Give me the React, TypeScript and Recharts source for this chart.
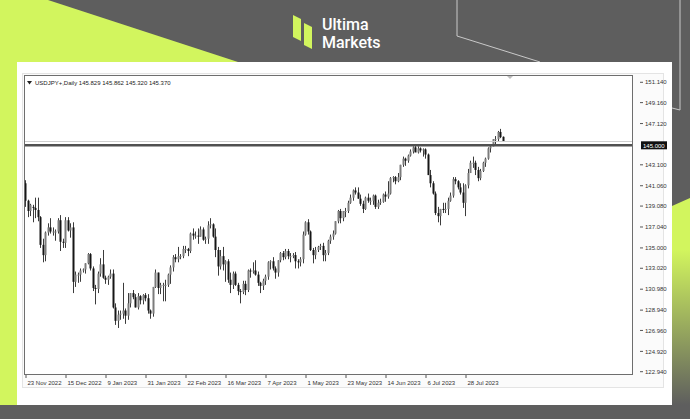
import { Bar, ComposedChart, ReferenceLine, XAxis, YAxis } from "recharts";

// open, high, low, close
type Candle = [number, number, number, number];

const nov22: Candle[] = [
  [141.3, 141.6, 139.0, 139.6], [139.6, 139.7, 138.0, 138.6], [138.6, 139.3, 138.1, 139.2],
  [139.0, 139.2, 137.5, 138.9], [138.9, 139.9, 137.9, 138.7], [138.7, 139.9, 137.6, 138.0],
];
const dec22: Candle[] = [
  [138.0, 138.1, 135.0, 135.3], [135.3, 135.9, 133.6, 134.3], [134.3, 136.6, 133.7, 136.5],
  [136.5, 137.4, 136.2, 137.0], [137.0, 137.9, 136.4, 136.6], [136.6, 137.0, 136.2, 136.6],
  [136.6, 136.8, 135.7, 136.6], [136.6, 137.9, 136.4, 137.7], [137.7, 138.2, 134.7, 135.6],
  [135.6, 135.9, 135.0, 135.5], [135.5, 138.0, 135.0, 137.7], [137.7, 138.0, 136.6, 136.7],
  [136.7, 137.4, 136.0, 137.0], [137.0, 137.5, 130.6, 131.7], [131.7, 132.7, 131.2, 132.4],
  [132.4, 132.6, 131.6, 132.4], [132.4, 133.0, 131.7, 132.8], [132.8, 133.0, 132.6, 132.9],
  [132.9, 133.5, 132.5, 133.5], [133.5, 134.5, 133.4, 134.4], [134.4, 134.5, 132.8, 133.0],
  [133.0, 133.2, 130.8, 131.1],
];
const jan23: Candle[] = [
  [131.1, 131.4, 129.5, 131.0], [131.0, 132.7, 130.6, 132.5], [132.5, 134.0, 132.2, 133.4],
  [133.4, 134.8, 132.0, 132.1], [132.1, 132.3, 131.5, 131.9], [131.9, 132.3, 131.4, 132.2],
  [132.2, 132.9, 132.0, 132.5], [132.5, 132.9, 129.1, 129.2], [129.2, 129.6, 127.5, 127.9],
  [127.9, 128.9, 127.2, 128.5], [128.5, 128.9, 128.0, 128.6], [128.6, 131.6, 128.1, 128.9],
  [128.9, 129.1, 127.6, 128.4], [128.4, 130.6, 128.0, 129.6], [129.6, 130.6, 129.2, 130.6],
  [130.6, 130.9, 130.0, 130.2], [130.2, 130.5, 129.2, 129.2], [129.2, 130.6, 129.0, 130.3],
  [130.3, 130.4, 129.5, 129.9], [129.9, 130.5, 129.5, 130.4], [130.4, 130.6, 129.8, 130.1],
];
const feb23: Candle[] = [
  [130.1, 130.5, 128.6, 128.9], [128.9, 129.0, 128.1, 128.6], [128.6, 131.2, 128.3, 131.2],
  [131.2, 132.9, 131.1, 132.6], [132.6, 132.6, 130.5, 131.1], [131.1, 131.6, 130.5, 131.4],
  [131.4, 131.6, 129.8, 131.4], [131.4, 131.9, 129.8, 131.4], [131.4, 132.5, 131.2, 132.4],
  [132.4, 133.3, 131.5, 133.1], [133.1, 134.3, 132.7, 134.1], [134.1, 134.4, 133.6, 133.9],
  [133.9, 135.1, 133.6, 134.2], [134.2, 134.4, 133.9, 134.2], [134.2, 135.2, 134.0, 134.9],
  [134.9, 135.2, 134.5, 134.9], [134.9, 135.0, 134.2, 134.7], [134.7, 136.5, 134.5, 136.4],
  [136.4, 136.9, 135.8, 136.2], [136.2, 136.6, 135.9, 136.2],
];
const mar23: Candle[] = [
  [136.2, 136.9, 135.4, 136.1], [136.1, 137.1, 136.1, 136.8], [136.8, 137.0, 135.7, 135.8],
  [135.8, 136.1, 135.4, 135.9], [135.9, 137.6, 135.4, 137.2], [137.2, 137.9, 136.9, 137.3],
  [137.3, 137.4, 136.0, 136.1], [136.1, 136.9, 134.1, 134.8], [134.8, 135.1, 132.3, 133.2],
  [133.2, 134.8, 132.9, 134.2], [134.2, 135.1, 132.8, 133.4], [133.4, 133.8, 131.7, 133.7],
  [133.7, 133.9, 131.6, 131.9], [131.9, 132.6, 130.6, 131.4], [131.4, 132.7, 131.0, 132.5],
  [132.5, 132.7, 131.3, 131.4], [131.4, 131.6, 130.4, 130.8], [130.8, 131.0, 129.6, 130.7],
  [130.7, 131.8, 130.5, 131.5], [131.5, 131.8, 130.4, 130.9], [130.9, 132.9, 130.7, 132.8],
  [132.8, 133.0, 132.1, 132.7], [132.7, 133.6, 132.5, 132.8],
];
const apr23: Candle[] = [
  [132.8, 133.8, 132.3, 132.4], [132.4, 132.7, 131.3, 131.6], [131.6, 131.7, 130.6, 131.3],
  [131.3, 132.0, 130.9, 131.8], [131.8, 132.4, 131.4, 132.2], [132.2, 133.7, 131.9, 133.6],
  [133.6, 133.8, 132.9, 133.7], [133.7, 134.1, 132.8, 133.0], [133.0, 133.2, 132.0, 132.6],
  [132.6, 133.8, 132.2, 133.8], [133.8, 134.6, 133.6, 134.5], [134.5, 134.7, 133.8, 134.1],
  [134.1, 134.9, 133.9, 134.7], [134.7, 134.9, 133.9, 134.2], [134.2, 134.5, 133.6, 134.2],
  [134.2, 134.5, 134.0, 134.3], [134.3, 134.6, 133.0, 133.7], [133.7, 133.9, 133.0, 133.6],
  [133.6, 134.1, 133.2, 133.9], [133.9, 136.6, 133.5, 136.3],
];
const may23: Candle[] = [
  [136.3, 137.6, 136.2, 137.5], [137.5, 137.8, 136.3, 136.6], [136.6, 136.7, 134.7, 134.8],
  [134.8, 135.0, 133.5, 134.3], [134.3, 135.1, 133.9, 134.8], [134.8, 135.2, 134.6, 135.1],
  [135.1, 135.4, 134.8, 135.2], [135.2, 135.5, 133.7, 134.3], [134.3, 134.8, 133.7, 134.5],
  [134.5, 135.8, 134.3, 135.7], [135.7, 136.3, 135.4, 136.1], [136.1, 136.7, 135.8, 136.4],
  [136.4, 137.6, 136.3, 137.6], [137.6, 138.7, 137.4, 138.6], [138.6, 138.8, 137.4, 137.9],
  [137.9, 138.6, 137.6, 138.6], [138.6, 138.9, 138.0, 138.6], [138.6, 139.6, 138.4, 139.4],
  [139.4, 140.2, 139.3, 139.9], [139.9, 140.7, 139.6, 140.6], [140.6, 140.9, 140.2, 140.4],
  [140.4, 140.9, 139.8, 139.8], [139.8, 140.2, 139.1, 139.3],
];
const jun23: Candle[] = [
  [139.3, 139.6, 138.4, 138.8], [138.8, 140.0, 138.7, 139.9], [139.9, 140.3, 139.4, 139.6],
  [139.6, 139.9, 139.2, 139.6], [139.6, 140.2, 139.2, 140.1], [140.1, 140.2, 138.8, 139.0],
  [139.0, 139.7, 138.8, 139.4], [139.4, 139.8, 139.2, 139.5], [139.5, 140.3, 139.4, 140.2],
  [140.2, 140.5, 139.5, 140.0], [140.0, 141.5, 139.8, 140.3], [140.3, 141.9, 140.2, 141.8],
  [141.8, 142.0, 141.4, 141.9], [141.9, 142.0, 141.2, 141.5], [141.5, 142.3, 141.4, 141.9],
  [141.9, 143.1, 141.6, 143.1], [143.1, 143.9, 142.9, 143.7], [143.7, 143.8, 143.0, 143.5],
  [143.5, 144.1, 143.3, 144.0], [144.0, 144.6, 143.9, 144.4], [144.4, 144.9, 144.2, 144.8],
  [144.8, 145.1, 144.4, 144.3],
];
const jul23: Candle[] = [
  [144.3, 144.9, 144.2, 144.7], [144.7, 144.8, 144.3, 144.5], [144.5, 144.7, 143.9, 144.6],
  [144.6, 144.7, 143.7, 144.1], [144.1, 144.2, 142.1, 142.1], [142.1, 142.6, 140.9, 141.3],
  [141.3, 141.5, 140.2, 140.3], [140.3, 140.5, 138.2, 138.4], [138.4, 139.0, 137.5, 138.1],
  [138.1, 138.8, 137.2, 138.8], [138.8, 139.4, 138.4, 138.7], [138.7, 139.4, 138.4, 138.8],
  [138.8, 139.9, 138.2, 139.6], [139.6, 140.4, 139.5, 140.1], [140.1, 141.9, 139.9, 141.7],
  [141.7, 141.9, 141.2, 141.5], [141.5, 141.6, 140.7, 140.9], [140.9, 141.3, 140.2, 140.4],
  [140.4, 141.3, 138.9, 139.4], [139.4, 141.2, 138.1, 141.1], [141.1, 142.7, 140.8, 142.3],
];
const aug23: Candle[] = [
  [142.3, 143.5, 142.3, 143.3], [143.3, 143.9, 142.8, 143.3], [143.3, 143.5, 142.1, 142.6],
  [142.6, 142.9, 141.5, 141.8], [141.8, 142.7, 141.6, 142.5], [142.5, 143.4, 142.4, 143.3],
  [143.3, 143.8, 142.9, 143.7], [143.7, 144.8, 143.6, 144.7], [144.7, 145.0, 144.3, 144.9],
  [144.9, 145.6, 144.9, 145.6], [145.6, 145.9, 145.1, 145.6], [145.6, 146.4, 145.4, 146.3],
  [146.3, 146.6, 145.7, 145.8], [145.829, 145.862, 145.32, 145.37],
];

const dateTicks = [0, 16, 32, 48, 64, 80, 96, 112, 128, 144, 160, 176];
const dateLabels = [
  "23 Nov 2022", "15 Dec 2022", "9 Jan 2023", "31 Jan 2023", "22 Feb 2023", "16 Mar 2023",
  "7 Apr 2023", "1 May 2023", "23 May 2023", "14 Jun 2023", "6 Jul 2023", "28 Jul 2023",
];
const priceTicks = [
  151.14, 149.16, 147.12, 145.0, 143.1, 141.06, 139.08, 137.04, 135.0, 133.02, 130.98, 128.94,
  126.96, 124.92, 122.94,
];
const levelLine = 145.0;
const bidLine = 145.37;

const candles = [
  ...nov22, ...dec22, ...jan23, ...feb23, ...mar23, ...apr23, ...may23, ...jun23, ...jul23, ...aug23,
].map(([o, h, l, c], i) => ({ i, o, h, l, c }));

const LIME = "#d2f55e";
const BG = "#5e5e5e";
const AXIS_FONT = "'Liberation Sans', Arial, sans-serif";

function CandleShape(props: any) {
  const { x, y, width, height, payload } = props;
  if (x == null || y == null) return null;
  const top = Math.min(y, y + height);
  const span = Math.abs(height);
  const { o, h, l, c } = payload;
  const k = h > l ? span / (h - l) : 0;
  const py = (p: number) => top + (h - p) * k;
  const cx = Math.floor(x + width / 2) + 0.5;
  const bodyTop = py(Math.max(o, c));
  const bodyH = Math.max(1, py(Math.min(o, c)) - bodyTop);
  const bull = c >= o;
  return (
    <g>
      <line x1={cx} x2={cx} y1={top} y2={top + span} stroke="#3c3c3c" strokeWidth={1} />
      <rect x={cx - 1} y={bodyTop} width={2} height={bodyH} fill={bull ? "#7c7c7c" : "#161616"} />
    </g>
  );
}

function DateTick(props: any) {
  const { x, y, payload } = props;
  const idx = dateTicks.indexOf(payload.value);
  return (
    <g>
      <line x1={x} x2={x} y1={y - 8} y2={y - 4} stroke="#555" />
      <text x={x + 1.5} y={y + 2.5} fontSize={6} fontFamily={AXIS_FONT} fill="#333">
        {dateLabels[idx]}
      </text>
    </g>
  );
}

function PriceTick(props: any) {
  const { x, y, payload } = props;
  const v: number = payload.value;
  const label = v.toFixed(3);
  if (v === levelLine) {
    return (
      <g>
        <rect x={x + 1} y={y - 4} width={26} height={8} fill="#111" />
        <text x={x + 3} y={y} dy={2.2} fontSize={6} fontFamily={AXIS_FONT} fill="#fff">
          {label}
        </text>
      </g>
    );
  }
  return (
    <g>
      <line x1={x} x2={x + 3} y1={y} y2={y} stroke="#555" />
      <text x={x + 5} y={y} dy={2.2} fontSize={6} fontFamily={AXIS_FONT} fill="#333">
        {label}
      </text>
    </g>
  );
}

function Backdrop() {
  return (
    <svg width={690} height={419} style={{ position: "absolute", left: 0, top: 0 }}>
      <defs>
        <linearGradient id="rightFade" x1="0" y1="0" x2="0" y2="1">
          <stop offset="0" stopColor={LIME} />
          <stop offset="0.25" stopColor={LIME} />
          <stop offset="1" stopColor={BG} />
        </linearGradient>
      </defs>
      <rect width={690} height={419} fill={BG} />
      <polygon points="0,0 48,0 238,62 17,62 17,405 0,405" fill={LIME} />
      <polygon points="672,206 690,198 690,405 672,405" fill="url(#rightFade)" />
      <polyline points="457,0 457,36 540,62" fill="none" stroke="#c9c9c9" strokeWidth={1} />
      <polyline points="680,0 680,110 672,108" fill="none" stroke="#c9c9c9" strokeWidth={1} />
      {/* logo */}
      <polygon points="293,15 301,19 301,41 293,37" fill={LIME} />
      <polygon points="304,23 312,27 312,49 304,45" fill={LIME} />
      <text x={322} y={30} fontSize={16} fontWeight={500} fontFamily="Roboto, sans-serif" fill="#fff">
        Ultima
      </text>
      <text x={322} y={48} fontSize={16} fontWeight={500} fontFamily="Roboto, sans-serif" fill="#fff">
        Markets
      </text>
    </svg>
  );
}

export default function App() {
  return (
    <div style={{ position: "absolute", left: 0, top: 0, width: 690, height: 419, overflow: "hidden" }}>
      <Backdrop />
      <div style={{ position: "absolute", left: 17, top: 62, width: 655, height: 343, background: "#fff" }} />
      <div
        style={{
          position: "absolute", left: 22, top: 73, width: 640, height: 313,
          background: "#fbfbfb", border: "1px solid #e4e4e4",
        }}
      />
      <div style={{ position: "absolute", left: 24, top: 75, width: 608, height: 299, background: "#fff" }} />
      <div style={{ position: "absolute", left: 0, top: 0 }}>
        <ComposedChart
          width={690}
          height={419}
          data={candles}
          margin={{ top: 75, left: 24, right: 18, bottom: 25 }}
        >
          <XAxis
            type="number"
            dataKey="i"
            scale="linear"
            domain={[-0.8, 242.4]}
            allowDataOverflow
            ticks={dateTicks}
            interval={0}
            height={20}
            axisLine={false}
            tickLine={false}
            tick={<DateTick />}
          />
          <YAxis
            orientation="right"
            domain={[122.716, 151.851]}
            allowDataOverflow
            ticks={priceTicks}
            interval={0}
            width={40}
            axisLine={false}
            tickLine={false}
            tick={<PriceTick />}
          />
          <ReferenceLine y={bidLine} stroke="#cfcfcf" strokeWidth={1} />
          <ReferenceLine y={levelLine} stroke="#505050" strokeWidth={2.5} />
          <Bar
            dataKey={(d: any) => [d.l, d.h]}
            barSize={2}
            shape={<CandleShape />}
            isAnimationActive={false}
          />
        </ComposedChart>
      </div>
      {/* plot frame and header */}
      <div
        style={{
          position: "absolute", left: 24, top: 75, width: 607, height: 298,
          border: "1px solid #6e6e6e", pointerEvents: "none",
        }}
      />
      <svg width={690} height={419} style={{ position: "absolute", left: 0, top: 0, pointerEvents: "none" }}>
        <polygon points="27,81 32,81 29.5,84.5" fill="#222" />
        <text x={35} y={85} fontSize={6} fontFamily={AXIS_FONT} fill="#222">
          USDJPY+,Daily  145.829 145.862 145.320 145.370
        </text>
        <polygon points="507,76 513,76 510,79" fill="#bdbdbd" />
      </svg>
    </div>
  );
}
